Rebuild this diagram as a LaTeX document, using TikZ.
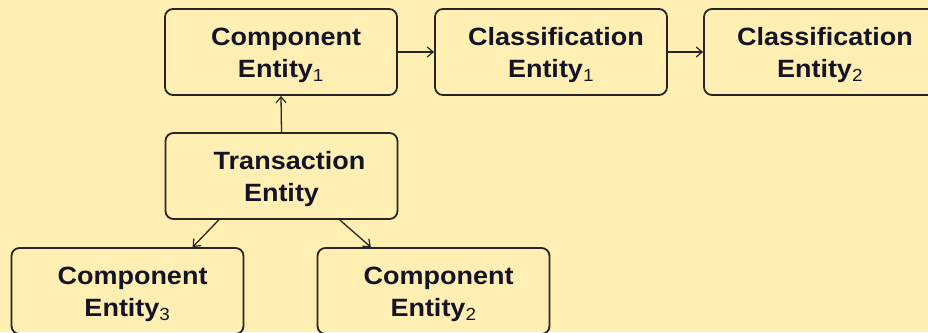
\documentclass[tikz,border=0pt]{standalone}
\usepackage{fontspec}
\usetikzlibrary{arrows.meta}
\newfontfamily\entityfont{Liberation Sans}[FakeStretch=1.08]
\definecolor{paper}{RGB}{255,239,178}
\definecolor{ink}{RGB}{20,20,38}
\definecolor{frame}{RGB}{38,38,38}
% lighter, smaller index after an entity name
\newcommand{\idx}[1]{\textsubscript{\mdseries #1}}
% taller first line, which sets the text block a little lower in its box
\newcommand{\capstrut}{\rule{0pt}{24pt}}
\tikzset{
  entity/.style={draw=frame, line width=1.8pt, rounded corners=8pt,
    minimum width=232pt, minimum height=86pt, inner sep=0pt,
    align=center, text=ink,
    font=\entityfont\bfseries\fontsize{25}{32}\selectfont},
  link/.style={draw=frame, line width=1.3pt,
    -{Straight Barb[length=6pt,width=10pt,line width=1.2pt]}}
}
\begin{document}
\begin{tikzpicture}[x=1pt,y=1pt]
  \fill[paper] (0,0) rectangle (928,332);
  \useasboundingbox (0,0) rectangle (928,332);
  \clip (0,0) rectangle (928,332);

  \node[entity] (ce1)   at (281,280)   {\capstrut\hspace*{10pt}Component\\Entity\idx{1}};
  \node[entity] (cls1)  at (551,280)   {\capstrut\hspace*{10pt}Classification\\Entity\idx{1}};
  \node[entity] (cls2)  at (820,280)   {\capstrut\hspace*{10pt}Classification\\Entity\idx{2}};
  \node[entity] (trans) at (281.5,156) {\capstrut\hspace*{16pt}Transaction\\Entity};
  \node[entity] (ce3)   at (127.5,41)  {\capstrut\hspace*{10pt}Component\\Entity\idx{3}};
  \node[entity] (ce2)   at (433.5,41)  {\capstrut\hspace*{10pt}Component\\Entity\idx{2}};

  \draw[link] (ce1.east)  -- (cls1.west);
  \draw[link] (cls1.east) -- (cls2.west);
  \draw[link] (trans.north) -- (ce1.south);
  \draw[link] (trans.215) -- (ce3.34.5);
  \draw[link] (trans.323.7) -- (ce2.145);
\end{tikzpicture}
\end{document}
